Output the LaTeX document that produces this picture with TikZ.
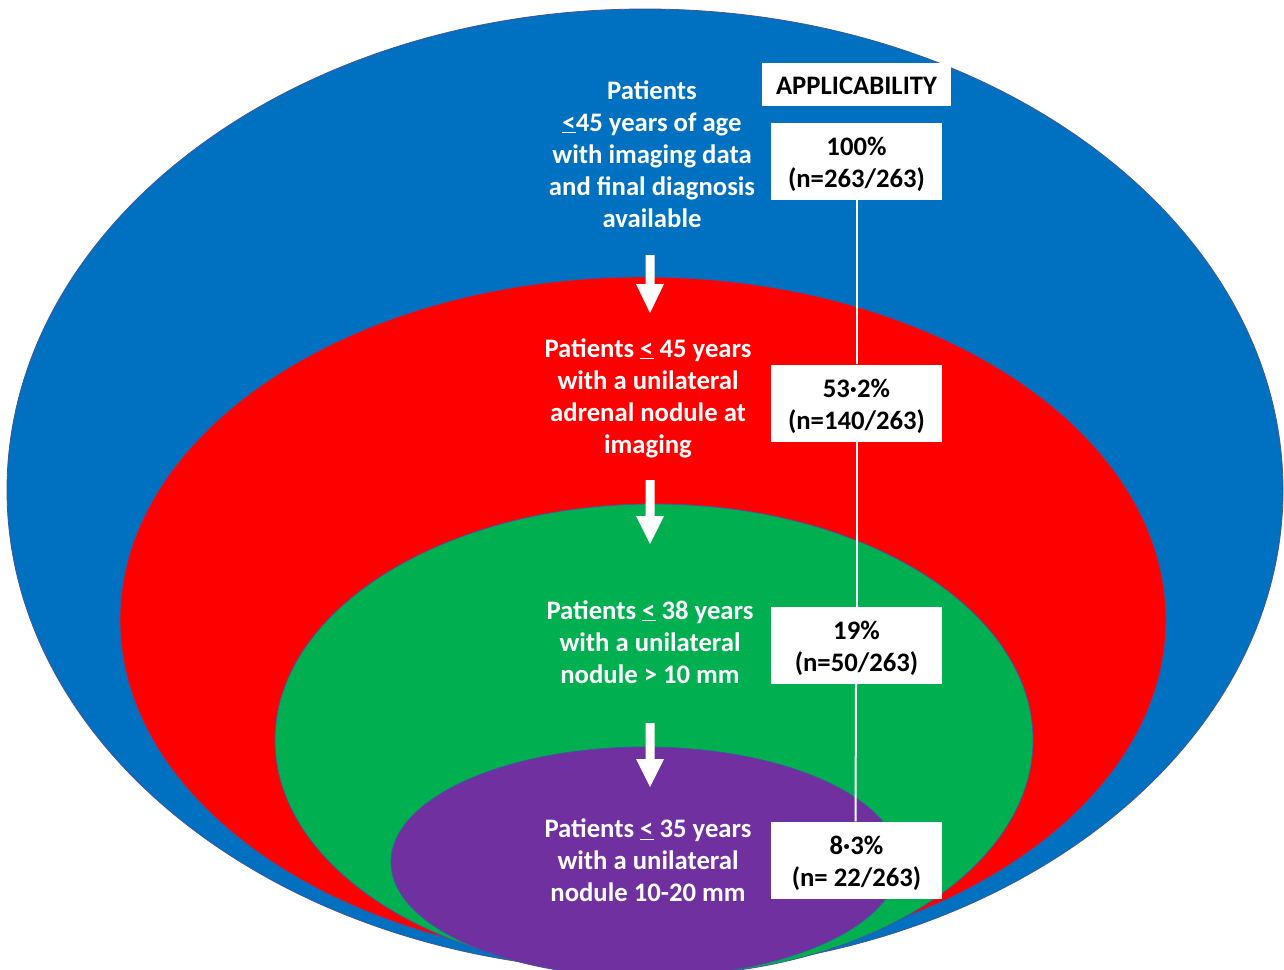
\documentclass[tikz,border=0pt]{standalone}
\usepackage{fontspec}
\setmainfont{Carlito}
\definecolor{cblue}{HTML}{0070C0}
\definecolor{cred}{HTML}{FF0000}
\definecolor{cgreen}{HTML}{00B050}
\definecolor{cpurple}{HTML}{7030A0}
\definecolor{cedge}{HTML}{41579C}
\begin{document}
\begin{tikzpicture}[x=1pt,y=-1pt,
  ring/.style={draw=cedge, line width=0.8pt},
  lbl/.style={text=white, font=\fontsize{26.7}{32}\selectfont\bfseries, align=center, inner sep=0pt},
  pctbox/.style={fill=white, inner sep=0pt, minimum width=171pt, minimum height=77pt},
  pcttext/.style={text=black, font=\fontsize{26.7}{32}\selectfont\bfseries, align=center, inner sep=0pt},
  link/.style={draw=white, line width=2pt},
  downarrow/.style={fill=white}
]
\useasboundingbox (0,0) rectangle (1284,969);
\fill[white] (0,0) rectangle (1284,969);
\begin{scope}
\clip (0,0) rectangle (1284,969);
\filldraw[ring, fill=cblue] (645,490) ellipse [x radius=638, y radius=481];
\filldraw[ring, fill=cred] (643,620) ellipse [x radius=523, y radius=343];
\filldraw[ring, fill=cgreen] (654,740) ellipse [x radius=379, y radius=236];
\filldraw[ring, fill=cpurple] (645,862) ellipse [x radius=254, y radius=115];
\end{scope}

% labels
\node[lbl] (t1) at (652,154) {Patients\\\underline{<}45 years of age\\with imaging data\\and final diagnosis\\available};
\node[lbl] (t2) at (648,398) {Patients \underline{<} 45 years\\with a unilateral\\adrenal nodule at\\imaging};
\node[lbl] (t3) at (650,642) {Patients \underline{<} 38 years\\with a unilateral\\nodule > 10 mm};
\node[lbl] (t4) at (648,860) {Patients \underline{<} 35 years\\with a unilateral\\nodule 10-20 mm};

% applicability boxes
\node[pctbox, minimum width=189pt, minimum height=43pt] (app) at (856.5,84.5) {};
\node[pcttext] (appt) at ([yshift=-1pt]app.center) {APPLICABILITY};
\node[pctbox] (b1) at (856.5,161.5) {};
\node[pctbox] (b2) at (856.5,403) {};
\node[pctbox] (b3) at (856.5,645.5) {};
\node[pctbox] (b4) at (856.5,860) {};
\node[pcttext] (b1t) at ([yshift=-3pt]b1.center) {100\%\\(n=263/263)};
\node[pcttext] (b2t) at ([yshift=-3pt]b2.center) {53·2\%\\(n=140/263)};
\node[pcttext] (b3t) at ([yshift=-3pt]b3.center) {19\%\\(n=50/263)};
\node[pcttext] (b4t) at ([yshift=-3pt]b4.center) {8·3\%\\(n= 22/263)};

\draw[link] ([xshift=0.5pt]b1.south) -- ([xshift=0.5pt]b2.north);
\draw[link] (b2.south) -- (b3.north);
\draw[link] ([xshift=-0.5pt]b3.south) -- ([xshift=-1pt]b4.north);

% block arrows
\foreach \top/\base/\tip in {255/284/313, 480/516/544, 723/759/787}{
  \fill[downarrow] (645.5,\top) -- (654.5,\top) -- (654.5,\base) -- (664,\base) -- (650,\tip) -- (636,\base) -- (645.5,\base) -- cycle;
}
\end{tikzpicture}
\end{document}
